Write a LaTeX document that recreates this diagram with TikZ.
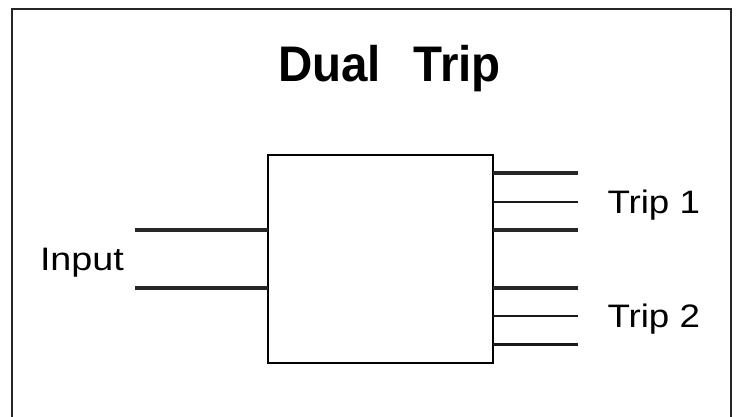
\documentclass[tikz,border=0pt]{standalone}
\usepackage{fontspec}
\usepackage{graphicx}
\setmainfont{Liberation Sans}
\begin{document}
\begin{tikzpicture}[x=1pt,y=-1pt,
  frame/.style={draw=black!85,line width=2pt},
  blk/.style={draw=black,line width=2pt,fill=white,inner sep=0pt,outer sep=0pt,minimum width=225pt,minimum height=208pt},
  thickw/.style={draw=black!85,line width=4pt},
  thinw/.style={draw=black!90,line width=2pt},
  midw/.style={draw=black!90,line width=2.5pt},
  lbl/.style={inner sep=0pt,outer sep=0pt,font=\fontsize{32.5}{38}\selectfont,anchor=base west},
  ttl/.style={inner sep=0pt,outer sep=0pt,font=\fontsize{50}{60}\selectfont\bfseries,anchor=base west}]
\useasboundingbox (0,0) rectangle (739,417);
\clip (0,0) rectangle (739,417);
\fill[white] (0,0) rectangle (739,417);
\draw[frame] (11.5,9.5) rectangle (730.7,440);
\node[ttl] (title) at (278,81.7) {\scalebox{0.95}[1]{Dual\hspace{34.7pt}Trip}};
\node[blk] (box) at (380.1,258.7) {};
% input lines
\coordinate (in1) at (135,230);
\coordinate (in2) at (135,288);
\draw[thickw] (in1) -- (in1 -| box.west);
\draw[thickw] (in2) -- (in2 -| box.west);
% output lines
\coordinate (o1) at (578,173.3);
\coordinate (o2) at (578,201.7);
\coordinate (o3) at (578,230.3);
\coordinate (o4) at (578,287.7);
\coordinate (o5) at (578,316);
\coordinate (o6) at (578,344.7);
\draw[thickw] (o1 -| box.east) -- (o1);
\draw[thinw] (o2 -| box.east) -- (o2);
\draw[thickw] (o3 -| box.east) -- (o3);
\draw[thickw] (o4 -| box.east) -- (o4);
\draw[thinw] (o5 -| box.east) -- (o5);
\draw[midw] (o6 -| box.east) -- (o6);
% labels
\node[lbl] (inp) at (40,270) {\scalebox{1.16}[1]{Input}};
\node[lbl] (trip1) at (607.5,213) {\scalebox{1.13}[1]{Trip 1}};
\node[lbl] (trip2) at (607.5,327) {\scalebox{1.13}[1]{Trip 2}};
\end{tikzpicture}
\end{document}
